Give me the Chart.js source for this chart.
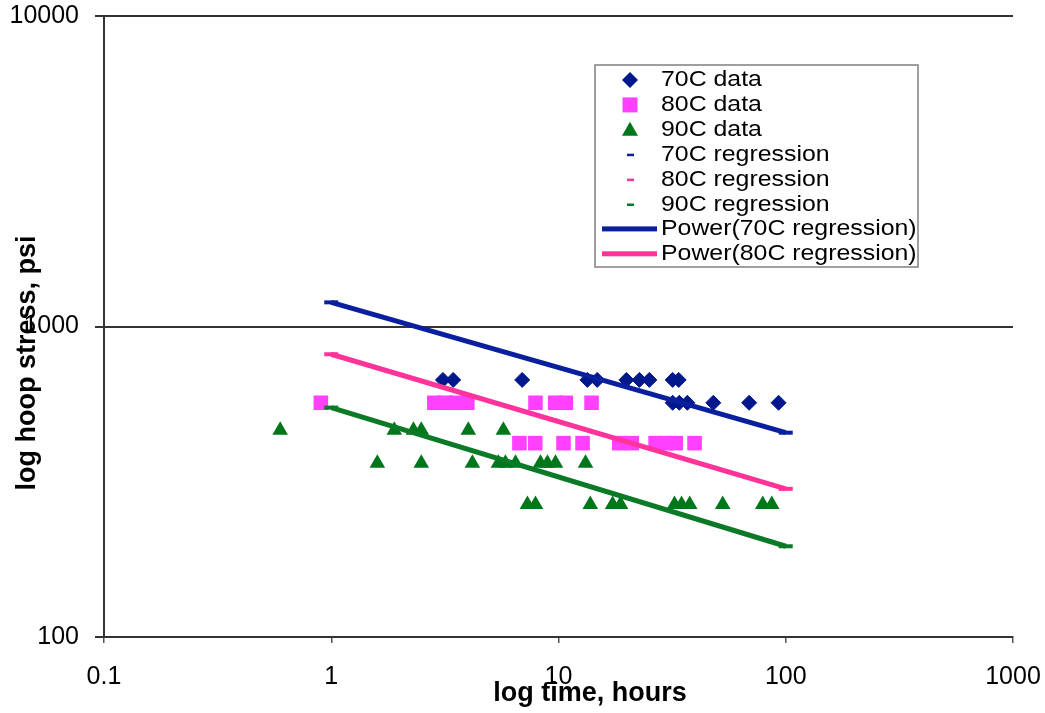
<!DOCTYPE html>
<html><head><meta charset="utf-8">
<script src="https://cdn.jsdelivr.net/npm/chart.js@4"></script>
<style>html,body{margin:0;padding:0;background:#fff}#wrap{width:1045px;height:713px;position:relative}</style>
</head><body><div id="wrap"><canvas id="c" width="1045" height="713"></canvas></div>
<script>
// ---- axis ticks ----
const xTicks = [0.1, 1, 10, 100, 1000];
const xTickLabels = ['0.1', '1', '10', '100', '1000'];
const yTicks = [100, 1000, 10000];
const yTickLabels = ['100', '1000', '10000'];

// ---- series labels ----
const seriesLabels = ['70C data', '80C data', '90C data', '70C regression', '80C regression', '90C regression',
  'Power(70C regression)', 'Power(80C regression)', 'Power(90C regression)'];

// ---- 70C data (time h, stress psi) ----
const t70 = [3.10, 3.44, 6.92, 13.4, 14.8, 19.9, 22.7, 25.1, 31.8, 33.8, 31.8, 34.0, 36.9, 48.0, 69.0, 93.0];
const s70 = [673, 673, 673, 673, 673, 673, 673, 673, 673, 673, 568, 568, 568, 568, 568, 568];

// ---- 80C data ----
const t80 = [0.90, 2.84, 3.17, 3.55, 3.97, 7.92, 9.67, 10.77, 13.98,
  6.73, 7.90, 10.52, 12.76, 18.51, 21.01, 26.75, 29.6, 32.8, 39.7];
const s80 = [568, 568, 568, 568, 568, 568, 568, 568, 568,
  421, 421, 421, 421, 421, 421, 421, 421, 421, 421];

// ---- 90C data ----
const t90 = [0.596, 1.894, 2.30, 2.49, 4.01, 5.72,
  1.595, 2.49, 4.18, 5.44, 5.84, 6.47, 8.33, 8.94, 9.70, 13.15,
  7.30, 7.92, 13.8, 17.3, 18.75, 32.4, 34.8, 37.8, 52.8, 79.2, 86.8];
const s90 = [463, 463, 463, 463, 463, 463,
  363, 363, 363, 363, 363, 363, 363, 363, 363, 363,
  267, 267, 267, 267, 267, 267, 267, 267, 267, 267, 267];

// ---- regression endpoints ----
const regT = [1, 100];
const reg70 = [1196, 455];
const reg80 = [814, 300];
const reg90 = [548, 196];

const C70 = '#00188c', C80 = '#ff40ff', C90 = '#00761a';
const L70 = '#0a1f9e', L80 = '#ff3399', L90 = '#0b7a26';

const zip = (xs, ys) => xs.map((x, i) => ({x: x, y: ys[i]}));
const FONT = '"Liberation Sans", Arial, sans-serif';

const datasets = [
  {label: seriesLabels[6], data: zip(regT, reg70), showLine: true, borderColor: L70, borderWidth: 5, pointRadius: 0, order: 0},
  {label: seriesLabels[7], data: zip(regT, reg80), showLine: true, borderColor: L80, borderWidth: 5, pointRadius: 0, order: 0},
  {label: seriesLabels[8], data: zip(regT, reg90), showLine: true, borderColor: L90, borderWidth: 5, pointRadius: 0, order: 0},
  {label: seriesLabels[3], data: zip(regT, reg70), showLine: false, pointStyle: 'line', pointRadius: 7, pointBorderWidth: 4, pointBorderColor: L70, order: 1},
  {label: seriesLabels[4], data: zip(regT, reg80), showLine: false, pointStyle: 'line', pointRadius: 7, pointBorderWidth: 4, pointBorderColor: L80, order: 1},
  {label: seriesLabels[5], data: zip(regT, reg90), showLine: false, pointStyle: 'line', pointRadius: 7, pointBorderWidth: 4, pointBorderColor: L90, order: 1},
  {label: seriesLabels[0], data: zip(t70, s70), showLine: false, pointStyle: 'rectRot', pointRadius: 7.5, pointBackgroundColor: C70, pointBorderColor: C70, pointBorderWidth: 1, order: 2},
  {label: seriesLabels[1], data: zip(t80, s80), showLine: false, pointStyle: 'rect', pointRadius: 10.3, pointBackgroundColor: C80, pointBorderColor: C80, pointBorderWidth: 0, order: 2},
  {label: seriesLabels[2], data: zip(t90, s90), showLine: false, pointStyle: 'triangle', pointRadius: 9, pointBackgroundColor: C90, pointBorderColor: C90, pointBorderWidth: 0, order: 2}
];

const overlay = {
  id: 'overlay',
  afterDraw(chart) {
    const ctx = chart.ctx;
    // axis titles
    ctx.save();
    ctx.fillStyle = '#000';
    ctx.font = 'bold 27px ' + FONT;
    ctx.textAlign = 'center';
    ctx.textBaseline = 'middle';
    ctx.fillText('log time, hours', 590, 694);
    ctx.translate(28, 363);
    ctx.rotate(-Math.PI / 2);
    ctx.fillText('log hoop stress, psi', 0, 0);
    ctx.restore();

    // legend box
    const bx = 595, by = 65, bw = 323, bh = 202;
    ctx.save();
    ctx.fillStyle = '#fff';
    ctx.fillRect(bx, by, bw, bh);
    ctx.beginPath(); ctx.rect(bx, by, bw, bh); ctx.clip();
    const items = [
      {t: 'diamond', c: C70}, {t: 'square', c: C80}, {t: 'triangle', c: C90},
      {t: 'dash', c: L70}, {t: 'dash', c: L80}, {t: 'dash', c: L90},
      {t: 'line', c: L70}, {t: 'line', c: L80}, {t: 'line', c: L90}
    ];
    const mx = 630;
    items.forEach((it, i) => {
      const y = 80 + i * 24.9;
      ctx.fillStyle = it.c; ctx.strokeStyle = it.c;
      if (it.t === 'diamond') {
        ctx.beginPath(); ctx.moveTo(mx, y - 8); ctx.lineTo(mx + 8, y); ctx.lineTo(mx, y + 8); ctx.lineTo(mx - 8, y); ctx.closePath(); ctx.fill();
      } else if (it.t === 'square') {
        ctx.fillRect(mx - 7.5, y - 7.5, 15, 15);
      } else if (it.t === 'triangle') {
        ctx.beginPath(); ctx.moveTo(mx, y - 8); ctx.lineTo(mx + 8, y + 6); ctx.lineTo(mx - 8, y + 6); ctx.closePath(); ctx.fill();
      } else if (it.t === 'dash') {
        ctx.fillRect(mx - 3, y - 1, 7, 2.5);
      } else {
        ctx.fillRect(602, y - 3, 55, 5);
      }
      ctx.save();
      ctx.fillStyle = '#000';
      ctx.font = '22px ' + FONT;
      ctx.textBaseline = 'middle';
      ctx.translate(661, y);
      ctx.scale(1.13, 1);
      ctx.fillText(seriesLabels[i], 0, 0);
      ctx.restore();
    });
    ctx.restore();
    ctx.save();
    ctx.strokeStyle = '#808080'; ctx.lineWidth = 1.5;
    ctx.strokeRect(bx, by, bw, bh);
    ctx.restore();
  }
};

new Chart(document.getElementById('c'), {
  type: 'scatter',
  data: {datasets: datasets},
  options: {
    responsive: false,
    animation: false,
    devicePixelRatio: 1,
    layout: {padding: {top: 16, right: 32, left: 0, bottom: 0}},
    plugins: {legend: {display: false}, tooltip: {enabled: false}},
    scales: {
      x: {
        type: 'logarithmic', min: 0.1, max: 1000, position: 'bottom',
        afterBuildTicks: s => { s.ticks = xTicks.map(v => ({value: v})); },
        afterFit: s => { s.height = 76; s.paddingLeft = 0; s.paddingRight = 0; },
        ticks: {callback: (v, i) => xTickLabels[i], font: {family: FONT, size: 25}, color: '#000', maxRotation: 0, autoSkip: false, padding: 19},
        grid: {drawOnChartArea: false, drawTicks: true, tickLength: 6, color: '#555', lineWidth: 1.5},
        border: {display: true, color: '#333', width: 2}
      },
      y: {
        type: 'logarithmic', min: 100, max: 10000,
        afterBuildTicks: s => { s.ticks = yTicks.map(v => ({value: v})); },
        afterFit: s => { s.width = 104; s.paddingTop = 0; s.paddingBottom = 0; },
        ticks: {callback: (v, i) => yTickLabels[i], font: {family: FONT, size: 25}, color: '#000', padding: 16},
        grid: {drawOnChartArea: true, drawTicks: true, tickLength: 9, color: '#333', lineWidth: 2},
        border: {display: true, color: '#333', width: 2}
      }
    }
  },
  plugins: [overlay]
});
</script>
</body></html>
